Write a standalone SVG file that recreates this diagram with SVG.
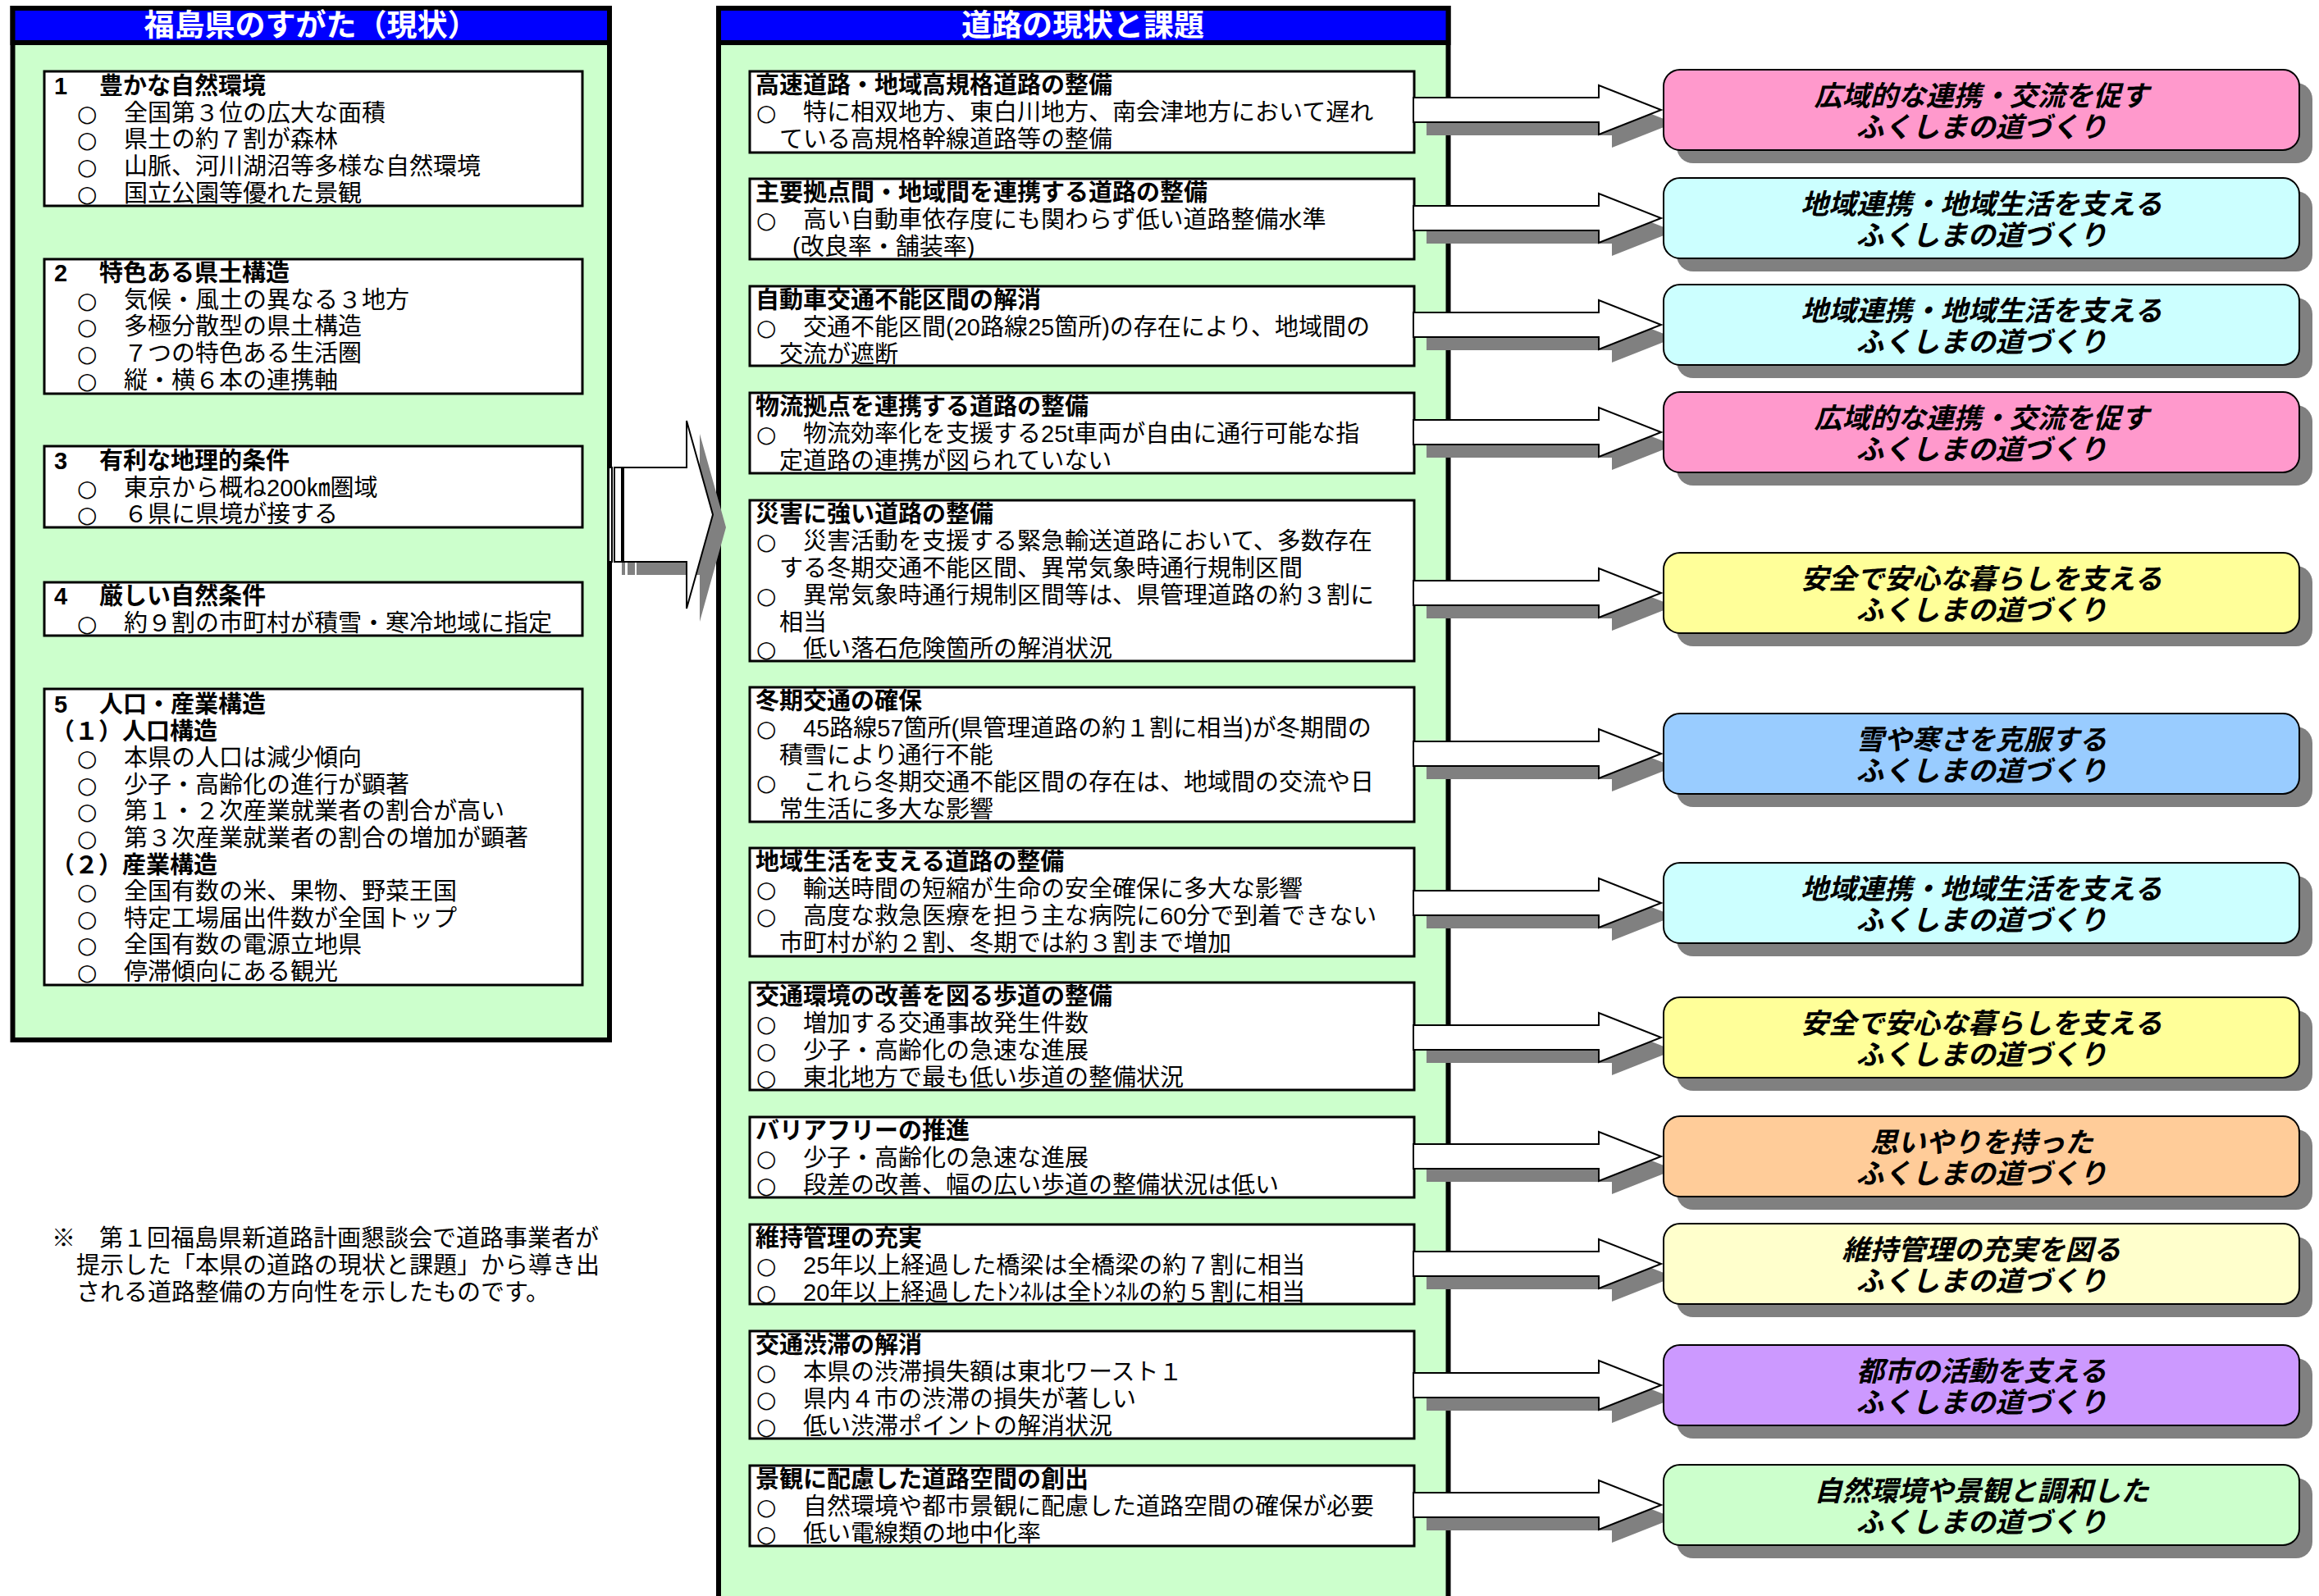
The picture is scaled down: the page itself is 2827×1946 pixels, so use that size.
<svg xmlns="http://www.w3.org/2000/svg" xmlns:xlink="http://www.w3.org/1999/xlink" width="2827" height="1946" viewBox="0 0 2827 1946">
<style>
.bg{fill:#fff}
.panel{fill:#CCFFCC;stroke:#000;stroke-width:6}
.hdr{fill:#0000FF;stroke:#000;stroke-width:6}
.hdrt{font-family:"Liberation Sans","Noto Sans CJK JP","Noto Sans CJK SC",sans-serif;font-weight:bold;font-size:37px;fill:#fff;text-anchor:middle}
.box{fill:#fff;stroke:#000;stroke-width:3}
.t{font-family:"Liberation Sans","Noto Sans CJK JP","Noto Sans CJK SC",sans-serif;font-size:29px;fill:#000}
.b{font-weight:bold}
.c{font-family:"DejaVu Sans","Noto Sans CJK JP",sans-serif;font-size:28px}
.sh{fill:#808080}
.arr{fill:#fff;stroke:#000;stroke-width:2;stroke-linejoin:miter}
.rb{stroke:#000;stroke-width:2}
.rt{font-family:"Liberation Sans","Noto Sans CJK JP","Noto Sans CJK SC",sans-serif;font-weight:bold;font-style:italic;font-size:34px;fill:#000;text-anchor:middle}
.pink{fill:#FF99CC}.cyan{fill:#CCFFFF}.yel{fill:#FFFF99}.blu{fill:#99CCFF}.org{fill:#FFCC99}.lyel{fill:#FFFFCC}.pur{fill:#CC99FF}.grn{fill:#CCFFCC}
</style>
<defs>
<path id="conn" d="M0,-15 H226 V-30 L302,0 L226,30 V15 H0 Z"/>
<rect id="rbox" x="0" y="0" width="775" height="98" rx="20" ry="20"/>
</defs>
<rect class="bg" x="0" y="0" width="2827" height="1946"/>

<g id="left-panel">
<rect class="panel" x="15.5" y="10" width="727.5" height="1258"/>
<rect class="hdr" x="15.5" y="10" width="727.5" height="42"/>
<text class="hdrt" x="379" y="44">福島県のすがた（現状）</text>
</g>

<g id="left-box-1">
<rect class="box" x="54" y="87" width="656" height="164"/>
<text class="t"><tspan class="b" x="66" y="115">1</tspan><tspan class="b" x="121" y="115">豊かな自然環境</tspan><tspan class="c" x="94" y="148">○</tspan><tspan x="151">全国第３位の広大な面積</tspan><tspan class="c" x="94" y="180">○</tspan><tspan x="151">県土の約７割が森林</tspan><tspan class="c" x="94" y="213">○</tspan><tspan x="151">山脈、河川湖沼等多様な自然環境</tspan><tspan class="c" x="94" y="246">○</tspan><tspan x="151">国立公園等優れた景観</tspan></text>
</g>

<g id="left-box-2">
<rect class="box" x="54" y="316" width="656" height="164"/>
<text class="t"><tspan class="b" x="66" y="343">2</tspan><tspan class="b" x="121" y="343">特色ある県土構造</tspan><tspan class="c" x="94" y="376">○</tspan><tspan x="151">気候・風土の異なる３地方</tspan><tspan class="c" x="94" y="408">○</tspan><tspan x="151">多極分散型の県土構造</tspan><tspan class="c" x="94" y="441">○</tspan><tspan x="151">７つの特色ある生活圏</tspan><tspan class="c" x="94" y="474">○</tspan><tspan x="151">縦・横６本の連携軸</tspan></text>
</g>

<g id="left-box-3">
<rect class="box" x="54" y="544" width="656" height="99"/>
<text class="t"><tspan class="b" x="66" y="572">3</tspan><tspan class="b" x="121" y="572">有利な地理的条件</tspan><tspan class="c" x="94" y="605">○</tspan><tspan x="151">東京から概ね200㎞圏域</tspan><tspan class="c" x="94" y="637">○</tspan><tspan x="151">６県に県境が接する</tspan></text>
</g>

<g id="left-box-4">
<rect class="box" x="54" y="710" width="656" height="65"/>
<text class="t"><tspan class="b" x="66" y="737">4</tspan><tspan class="b" x="121" y="737">厳しい自然条件</tspan><tspan class="c" x="94" y="770">○</tspan><tspan x="151">約９割の市町村が積雪・寒冷地域に指定</tspan></text>
</g>

<g id="left-box-5">
<rect class="box" x="54" y="840" width="656" height="361"/>
<text class="t"><tspan class="b" x="66" y="869">5</tspan><tspan class="b" x="121" y="869">人口・産業構造</tspan><tspan class="b" x="62" y="902">（１）人口構造</tspan><tspan class="c" x="94" y="934">○</tspan><tspan x="151">本県の人口は減少傾向</tspan><tspan class="c" x="94" y="967">○</tspan><tspan x="151">少子・高齢化の進行が顕著</tspan><tspan class="c" x="94" y="999">○</tspan><tspan x="151">第１・２次産業就業者の割合が高い</tspan><tspan class="c" x="94" y="1032">○</tspan><tspan x="151">第３次産業就業者の割合の増加が顕著</tspan><tspan class="b" x="62" y="1065">（２）産業構造</tspan><tspan class="c" x="94" y="1097">○</tspan><tspan x="151">全国有数の米、果物、野菜王国</tspan><tspan class="c" x="94" y="1130">○</tspan><tspan x="151">特定工場届出件数が全国トップ</tspan><tspan class="c" x="94" y="1162">○</tspan><tspan x="151">全国有数の電源立地県</tspan><tspan class="c" x="94" y="1195">○</tspan><tspan x="151">停滞傾向にある観光</tspan></text>
</g>

<g id="footnote">
<text class="t"><tspan x="63" y="1520">※　第１回福島県新道路計画懇談会で道路事業者が</tspan><tspan x="93" y="1553">提示した「本県の道路の現状と課題」から導き出</tspan><tspan x="93" y="1586">される道路整備の方向性を示したものです。</tspan></text>
</g>

<g id="middle-panel">
<rect class="panel" x="876" y="10" width="889.5" height="1960"/>
<rect class="hdr" x="876" y="10" width="889.5" height="42"/>
<text class="hdrt" x="1320" y="44">道路の現状と課題</text>
</g>

<g id="issue-1">
<rect class="box" x="914" y="87" width="810" height="99"/>
<text class="t"><tspan class="b" x="921" y="114">高速道路・地域高規格道路の整備</tspan><tspan class="c" x="922" y="147">○</tspan><tspan x="979">特に相双地方、東白川地方、南会津地方において遅れ</tspan><tspan x="950" y="180">ている高規格幹線道路等の整備</tspan></text>
</g>
<g id="issue-2">
<rect class="box" x="914" y="218" width="810" height="98"/>
<text class="t"><tspan class="b" x="921" y="245">主要拠点間・地域間を連携する道路の整備</tspan><tspan class="c" x="922" y="278">○</tspan><tspan x="979">高い自動車依存度にも関わらず低い道路整備水準</tspan><tspan x="966" y="311">(改良率・舗装率)</tspan></text>
</g>
<g id="issue-3">
<rect class="box" x="914" y="349" width="810" height="97"/>
<text class="t"><tspan class="b" x="921" y="376">自動車交通不能区間の解消</tspan><tspan class="c" x="922" y="409">○</tspan><tspan x="979">交通不能区間(20路線25箇所)の存在により、地域間の</tspan><tspan x="950" y="442">交流が遮断</tspan></text>
</g>
<g id="issue-4">
<rect class="box" x="914" y="479" width="810" height="98"/>
<text class="t"><tspan class="b" x="921" y="506">物流拠点を連携する道路の整備</tspan><tspan class="c" x="922" y="539">○</tspan><tspan x="979">物流効率化を支援する25t車両が自由に通行可能な指</tspan><tspan x="950" y="572">定道路の連携が図られていない</tspan></text>
</g>
<g id="issue-5">
<rect class="box" x="914" y="610" width="810" height="196"/>
<text class="t"><tspan class="b" x="921" y="637">災害に強い道路の整備</tspan><tspan class="c" x="922" y="670">○</tspan><tspan x="979">災害活動を支援する緊急輸送道路において、多数存在</tspan><tspan x="950" y="703">する冬期交通不能区間、異常気象時通行規制区間</tspan><tspan class="c" x="922" y="736">○</tspan><tspan x="979">異常気象時通行規制区間等は、県管理道路の約３割に</tspan><tspan x="950" y="769">相当</tspan><tspan class="c" x="922" y="801">○</tspan><tspan x="979">低い落石危険箇所の解消状況</tspan></text>
</g>
<g id="issue-6">
<rect class="box" x="914" y="838" width="810" height="164"/>
<text class="t"><tspan class="b" x="921" y="865">冬期交通の確保</tspan><tspan class="c" x="922" y="898">○</tspan><tspan x="979">45路線57箇所(県管理道路の約１割に相当)が冬期間の</tspan><tspan x="950" y="931">積雪により通行不能</tspan><tspan class="c" x="922" y="964">○</tspan><tspan x="979">これら冬期交通不能区間の存在は、地域間の交流や日</tspan><tspan x="950" y="997">常生活に多大な影響</tspan></text>
</g>
<g id="issue-7">
<rect class="box" x="914" y="1034" width="810" height="132"/>
<text class="t"><tspan class="b" x="921" y="1061">地域生活を支える道路の整備</tspan><tspan class="c" x="922" y="1094">○</tspan><tspan x="979">輸送時間の短縮が生命の安全確保に多大な影響</tspan><tspan class="c" x="922" y="1127">○</tspan><tspan x="979">高度な救急医療を担う主な病院に60分で到着できない</tspan><tspan x="950" y="1160">市町村が約２割、冬期では約３割まで増加</tspan></text>
</g>
<g id="issue-8">
<rect class="box" x="914" y="1198" width="810" height="131"/>
<text class="t"><tspan class="b" x="921" y="1225">交通環境の改善を図る歩道の整備</tspan><tspan class="c" x="922" y="1258">○</tspan><tspan x="979">増加する交通事故発生件数</tspan><tspan class="c" x="922" y="1291">○</tspan><tspan x="979">少子・高齢化の急速な進展</tspan><tspan class="c" x="922" y="1324">○</tspan><tspan x="979">東北地方で最も低い歩道の整備状況</tspan></text>
</g>
<g id="issue-9">
<rect class="box" x="914" y="1362" width="810" height="98"/>
<text class="t"><tspan class="b" x="921" y="1389">バリアフリーの推進</tspan><tspan class="c" x="922" y="1422">○</tspan><tspan x="979">少子・高齢化の急速な進展</tspan><tspan class="c" x="922" y="1455">○</tspan><tspan x="979">段差の改善、幅の広い歩道の整備状況は低い</tspan></text>
</g>
<g id="issue-10">
<rect class="box" x="914" y="1493" width="810" height="97"/>
<text class="t"><tspan class="b" x="921" y="1520">維持管理の充実</tspan><tspan class="c" x="922" y="1553">○</tspan><tspan x="979">25年以上経過した橋梁は全橋梁の約７割に相当</tspan><tspan class="c" x="922" y="1586">○</tspan><tspan x="979">20年以上経過したﾄﾝﾈﾙは全ﾄﾝﾈﾙの約５割に相当</tspan></text>
</g>
<g id="issue-11">
<rect class="box" x="914" y="1623" width="810" height="131"/>
<text class="t"><tspan class="b" x="921" y="1650">交通渋滞の解消</tspan><tspan class="c" x="922" y="1683">○</tspan><tspan x="979">本県の渋滞損失額は東北ワースト１</tspan><tspan class="c" x="922" y="1716">○</tspan><tspan x="979">県内４市の渋滞の損失が著しい</tspan><tspan class="c" x="922" y="1749">○</tspan><tspan x="979">低い渋滞ポイントの解消状況</tspan></text>
</g>
<g id="issue-12">
<rect class="box" x="914" y="1787" width="810" height="98"/>
<text class="t"><tspan class="b" x="921" y="1814">景観に配慮した道路空間の創出</tspan><tspan class="c" x="922" y="1847">○</tspan><tspan x="979">自然環境や都市景観に配慮した道路空間の確保が必要</tspan><tspan class="c" x="922" y="1880">○</tspan><tspan x="979">低い電線類の地中化率</tspan></text>
</g>

<g id="connectors">
<g id="main-arrow">
<rect class="sh" x="758" y="586" width="4" height="115"/>
<rect class="sh" x="765" y="586" width="9" height="115"/>
<path class="sh" d="M776,586 H853 V529 L885,643 L853,758 V701 H776 Z"/>
<rect class="arr" x="742" y="570" width="4" height="115"/>
<rect class="arr" x="749" y="570" width="9" height="115"/>
<path class="arr" d="M760,570 H837 V513 L869,627.5 L837,742 V685 H760 Z"/>
</g>
<g transform="translate(1723,134)"><use xlink:href="#conn" class="sh" x="16" y="16"/><use xlink:href="#conn" class="arr"/></g>
<g transform="translate(1723,266)"><use xlink:href="#conn" class="sh" x="16" y="16"/><use xlink:href="#conn" class="arr"/></g>
<g transform="translate(1723,396)"><use xlink:href="#conn" class="sh" x="16" y="16"/><use xlink:href="#conn" class="arr"/></g>
<g transform="translate(1723,527)"><use xlink:href="#conn" class="sh" x="16" y="16"/><use xlink:href="#conn" class="arr"/></g>
<g transform="translate(1723,723)"><use xlink:href="#conn" class="sh" x="16" y="16"/><use xlink:href="#conn" class="arr"/></g>
<g transform="translate(1723,919)"><use xlink:href="#conn" class="sh" x="16" y="16"/><use xlink:href="#conn" class="arr"/></g>
<g transform="translate(1723,1101)"><use xlink:href="#conn" class="sh" x="16" y="16"/><use xlink:href="#conn" class="arr"/></g>
<g transform="translate(1723,1265)"><use xlink:href="#conn" class="sh" x="16" y="16"/><use xlink:href="#conn" class="arr"/></g>
<g transform="translate(1723,1410)"><use xlink:href="#conn" class="sh" x="16" y="16"/><use xlink:href="#conn" class="arr"/></g>
<g transform="translate(1723,1541)"><use xlink:href="#conn" class="sh" x="16" y="16"/><use xlink:href="#conn" class="arr"/></g>
<g transform="translate(1723,1689)"><use xlink:href="#conn" class="sh" x="16" y="16"/><use xlink:href="#conn" class="arr"/></g>
<g transform="translate(1723,1835)"><use xlink:href="#conn" class="sh" x="16" y="16"/><use xlink:href="#conn" class="arr"/></g>
</g>

<g id="goal-1" transform="translate(2028,85)"><use xlink:href="#rbox" class="sh" x="16" y="16"/><use xlink:href="#rbox" class="rb pink"/><text class="rt"><tspan x="387.5" y="44">広域的な連携・交流を促す</tspan><tspan x="387.5" y="82">ふくしまの道づくり</tspan></text></g>
<g id="goal-2" transform="translate(2028,217)"><use xlink:href="#rbox" class="sh" x="16" y="16"/><use xlink:href="#rbox" class="rb cyan"/><text class="rt"><tspan x="387.5" y="44">地域連携・地域生活を支える</tspan><tspan x="387.5" y="82">ふくしまの道づくり</tspan></text></g>
<g id="goal-3" transform="translate(2028,347)"><use xlink:href="#rbox" class="sh" x="16" y="16"/><use xlink:href="#rbox" class="rb cyan"/><text class="rt"><tspan x="387.5" y="44">地域連携・地域生活を支える</tspan><tspan x="387.5" y="82">ふくしまの道づくり</tspan></text></g>
<g id="goal-4" transform="translate(2028,478)"><use xlink:href="#rbox" class="sh" x="16" y="16"/><use xlink:href="#rbox" class="rb pink"/><text class="rt"><tspan x="387.5" y="44">広域的な連携・交流を促す</tspan><tspan x="387.5" y="82">ふくしまの道づくり</tspan></text></g>
<g id="goal-5" transform="translate(2028,674)"><use xlink:href="#rbox" class="sh" x="16" y="16"/><use xlink:href="#rbox" class="rb yel"/><text class="rt"><tspan x="387.5" y="44">安全で安心な暮らしを支える</tspan><tspan x="387.5" y="82">ふくしまの道づくり</tspan></text></g>
<g id="goal-6" transform="translate(2028,870)"><use xlink:href="#rbox" class="sh" x="16" y="16"/><use xlink:href="#rbox" class="rb blu"/><text class="rt"><tspan x="387.5" y="44">雪や寒さを克服する</tspan><tspan x="387.5" y="82">ふくしまの道づくり</tspan></text></g>
<g id="goal-7" transform="translate(2028,1052)"><use xlink:href="#rbox" class="sh" x="16" y="16"/><use xlink:href="#rbox" class="rb cyan"/><text class="rt"><tspan x="387.5" y="44">地域連携・地域生活を支える</tspan><tspan x="387.5" y="82">ふくしまの道づくり</tspan></text></g>
<g id="goal-8" transform="translate(2028,1216)"><use xlink:href="#rbox" class="sh" x="16" y="16"/><use xlink:href="#rbox" class="rb yel"/><text class="rt"><tspan x="387.5" y="44">安全で安心な暮らしを支える</tspan><tspan x="387.5" y="82">ふくしまの道づくり</tspan></text></g>
<g id="goal-9" transform="translate(2028,1361)"><use xlink:href="#rbox" class="sh" x="16" y="16"/><use xlink:href="#rbox" class="rb org"/><text class="rt"><tspan x="387.5" y="44">思いやりを持った</tspan><tspan x="387.5" y="82">ふくしまの道づくり</tspan></text></g>
<g id="goal-10" transform="translate(2028,1492)"><use xlink:href="#rbox" class="sh" x="16" y="16"/><use xlink:href="#rbox" class="rb lyel"/><text class="rt"><tspan x="387.5" y="44">維持管理の充実を図る</tspan><tspan x="387.5" y="82">ふくしまの道づくり</tspan></text></g>
<g id="goal-11" transform="translate(2028,1640)"><use xlink:href="#rbox" class="sh" x="16" y="16"/><use xlink:href="#rbox" class="rb pur"/><text class="rt"><tspan x="387.5" y="44">都市の活動を支える</tspan><tspan x="387.5" y="82">ふくしまの道づくり</tspan></text></g>
<g id="goal-12" transform="translate(2028,1786)"><use xlink:href="#rbox" class="sh" x="16" y="16"/><use xlink:href="#rbox" class="rb grn"/><text class="rt"><tspan x="387.5" y="44">自然環境や景観と調和した</tspan><tspan x="387.5" y="82">ふくしまの道づくり</tspan></text></g>
</svg>
